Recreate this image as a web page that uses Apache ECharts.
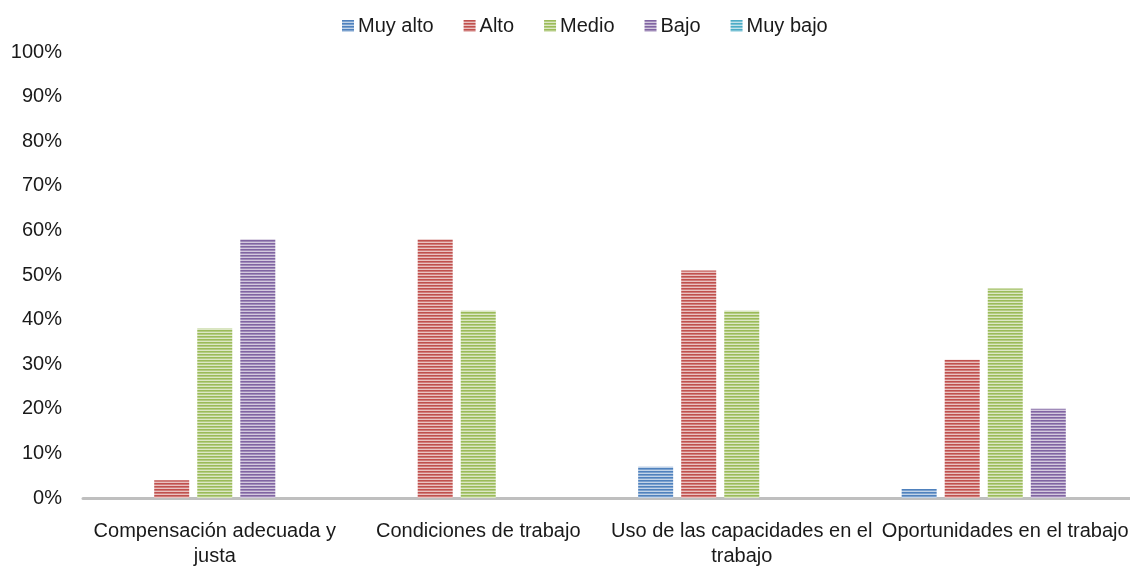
<!DOCTYPE html>
<html>
<head>
<meta charset="utf-8">
<script src="https://cdn.jsdelivr.net/npm/echarts@6/dist/echarts.min.js"></script>
<style>
  html, body { margin: 0; padding: 0; background: #fff; }
  #chart { width: 1130px; height: 570px; }
</style>
</head>
<body>
<div id="chart"></div>
<script>
// Categories and per-level percentages
const categories = [
  'Compensación adecuada y\njusta',
  'Condiciones de trabajo',
  'Uso de las capacidades en el\ntrabajo',
  'Oportunidades en el trabajo'
];
const seriesNames = ['Muy alto', 'Alto', 'Medio', 'Bajo', 'Muy bajo'];
const muyAlto = [0, 0, 7, 2];
const alto    = [4, 58, 51, 31];
const medio   = [38, 42, 42, 47];
const bajo    = [58, 0, 0, 20];
const muyBajo = [0, 0, 0, 0];
const yTicks = [0, 10, 20, 30, 40, 50, 60, 70, 80, 90, 100];

const baseColors = ['#4F81BD', '#C0504D', '#9BBB59', '#8064A2', '#4BACC6'];

function mix(hex, t) {
  const n = parseInt(hex.slice(1), 16);
  const r = (n >> 16) & 255, g = (n >> 8) & 255, b = n & 255;
  const f = c => Math.round(c + (255 - c) * t);
  return 'rgb(' + f(r) + ',' + f(g) + ',' + f(b) + ')';
}

// Narrow horizontal stripe fill
function stripes(hex) {
  const c = document.createElement('canvas');
  c.width = 4; c.height = 3;
  const ctx = c.getContext('2d');
  ctx.fillStyle = hex; ctx.fillRect(0, 0, 4, 1);
  ctx.fillStyle = mix(hex, 0.25); ctx.fillRect(0, 1, 4, 1);
  ctx.fillStyle = mix(hex, 0.65); ctx.fillRect(0, 2, 4, 1);
  return { image: c, repeat: 'repeat' };
}

const values = [muyAlto, alto, medio, bajo, muyBajo];

const chart = echarts.init(document.getElementById('chart'), null, { renderer: 'canvas' });
chart.setOption({
  animation: false,
  textStyle: { fontFamily: 'Liberation Sans, Arial, sans-serif' },
  legend: {
    top: 11,
    left: 337,
    itemWidth: 12,
    itemHeight: 12,
    itemGap: 30,
    icon: 'rect',
    textStyle: { fontSize: 20, color: '#1a1a1a', padding: [0, 0, 0, -1] },
    data: seriesNames
  },
  grid: { left: 83, width: 1054, top: 52, bottom: 72, outerBoundsMode: 'none' },
  xAxis: {
    type: 'category',
    data: categories,
    axisLine: { lineStyle: { color: '#BFBFBF', width: 3 } },
    axisTick: { show: false },
    axisLabel: { fontSize: 20, color: '#1a1a1a', margin: 21, lineHeight: 25, interval: 0 }
  },
  yAxis: {
    type: 'value',
    min: yTicks[0],
    max: yTicks[yTicks.length - 1],
    interval: yTicks[1] - yTicks[0],
    axisLine: { show: false },
    axisTick: { show: false },
    splitLine: { show: false },
    axisLabel: { fontSize: 20, color: '#1a1a1a', margin: 21, formatter: '{value}%' }
  },
  series: seriesNames.map((name, i) => ({
    name: name,
    type: 'bar',
    data: values[i],
    barWidth: 35,
    barGap: '23%',
    itemStyle: {
      color: stripes(baseColors[i]),
      borderWidth: 0
    }
  }))
});
</script>
</body>
</html>
